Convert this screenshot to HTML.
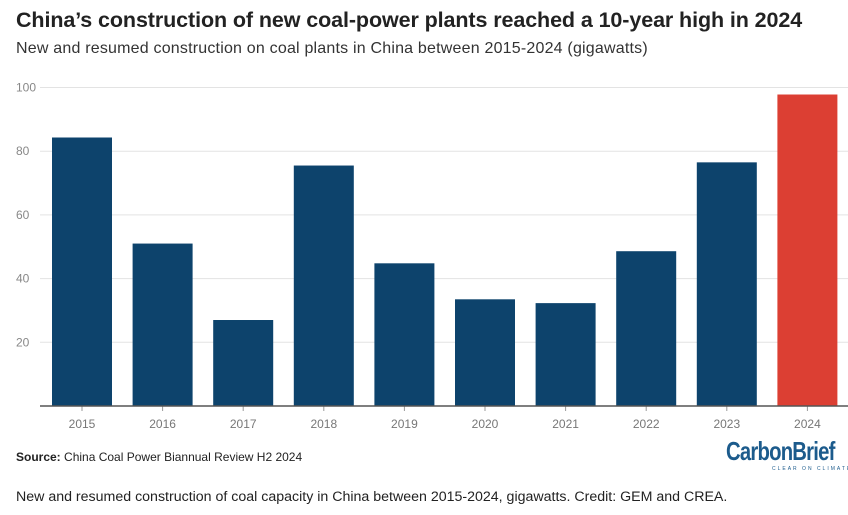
<!DOCTYPE html>
<html><head><meta charset="utf-8">
<style>
body{margin:0;width:848px;height:515px;background:#fff;font-family:"Liberation Sans",sans-serif;overflow:hidden;position:relative}
.t{position:absolute;white-space:nowrap}
</style></head>
<body>
<div class="t" style="left:16px;top:8px;font-size:21.5px;font-weight:bold;color:#222;letter-spacing:-0.1px">China’s construction of new coal-power plants reached a 10-year high in 2024</div>
<div class="t" style="left:16px;top:40px;font-size:16px;color:#333;letter-spacing:0.2px">New and resumed construction on coal plants in China between 2015-2024 (gigawatts)</div>
<svg id="chart" width="848" height="440" style="position:absolute;left:0;top:0"></svg>
<div class="t" style="left:16px;top:450px;font-size:12px;color:#222"><b>Source:</b> China Coal Power Biannual Review H2 2024</div>
<div class="t" style="left:726px;top:436px;font-size:26px;font-weight:bold;color:#1c5b8c;letter-spacing:-1px;transform:scaleX(0.78);transform-origin:left top">CarbonBrief</div>
<div class="t" style="left:772px;top:466px;font-size:5px;color:#1c5b8c;letter-spacing:2px">CLEAR ON CLIMATE</div>
<div class="t" style="left:16px;top:489px;font-size:14.2px;color:#222">New and resumed construction of coal capacity in China between 2015-2024, gigawatts. Credit: GEM and CREA.</div>
<script>
const categories=["2015","2016","2017","2018","2019","2020","2021","2022","2023","2024"];
const values=[84.3,51,27,75.5,44.8,33.5,32.3,48.6,76.5,97.8];
const yTicks=[20,40,60,80,100];
const svg=document.getElementById('chart');
const NS="http://www.w3.org/2000/svg";
const y0=406,yScale=3.185,x0=52,step=80.6,bw=60;
const y=v=>y0-v*yScale;
function mk(tag,attrs){const e=document.createElementNS(NS,tag);for(const k in attrs)e.setAttribute(k,attrs[k]);svg.appendChild(e);return e;}
yTicks.forEach(t=>{
  const g=mk('line',{x1:40,x2:848,y1:y(t),y2:y(t),stroke:'#e3e3e3','stroke-width':1});
  
  
  const l=mk('text',{x:16,y:y(t)+4,'font-size':12,fill:'#888','font-family':'Liberation Sans, sans-serif'});
  l.textContent=t;
  
  
});
categories.forEach((c,i)=>{
  const x=x0+i*step;
  const r=mk('rect',{x:x,y:y(values[i]),width:bw,height:values[i]*yScale,fill:i===categories.length-1?'#dc3f33':'#0d436c'});
  
  
  const tk=mk('line',{x1:x+bw/2,x2:x+bw/2,y1:y0,y2:y0+5,stroke:'#999'});
  
  
  const l=mk('text',{x:x+bw/2,y:y0+22,'font-size':12,fill:'#777','text-anchor':'middle','font-family':'Liberation Sans, sans-serif'});
  l.textContent=c;
  
  
});
const ax=mk('line',{x1:40,x2:848,y1:y0,y2:y0,stroke:'#555','stroke-width':1.5});


</script>
</body></html>
